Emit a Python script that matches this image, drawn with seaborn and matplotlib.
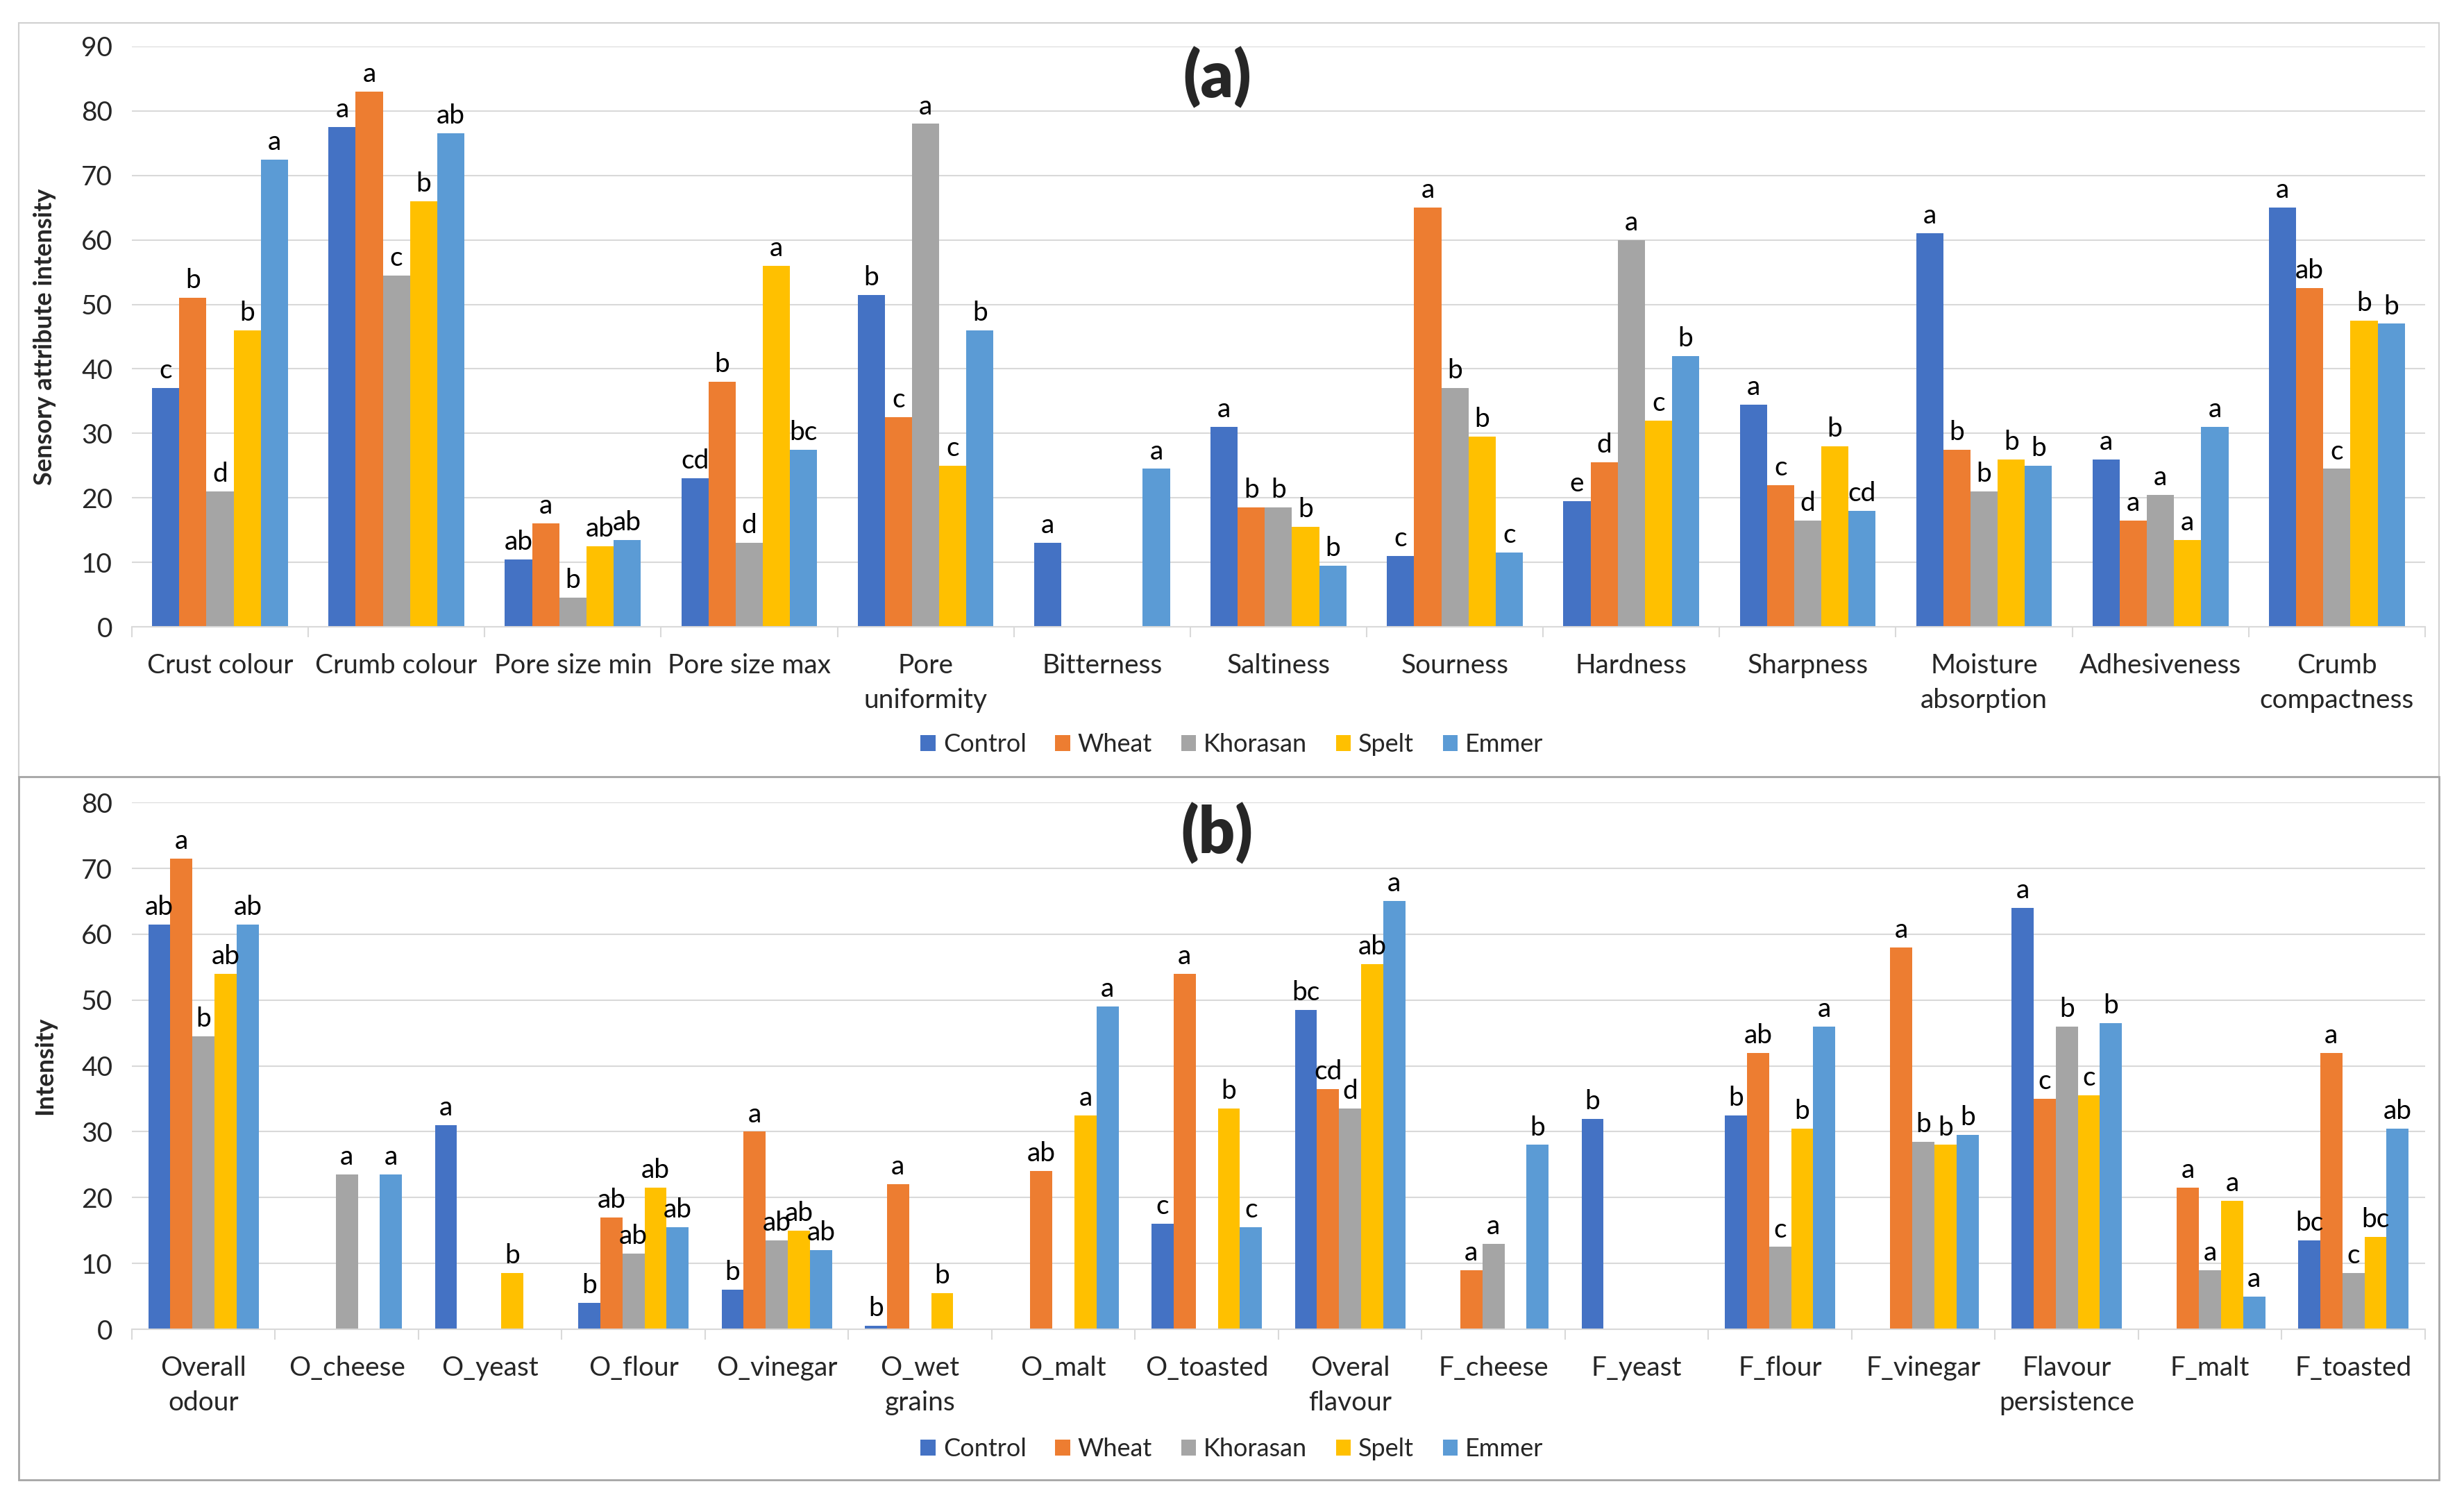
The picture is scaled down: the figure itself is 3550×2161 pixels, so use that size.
import matplotlib
matplotlib.use('Agg')
import matplotlib.pyplot as plt
from matplotlib.patches import Rectangle
import numpy as np
import pandas as pd
import seaborn as sns

breads = ['Control', 'Wheat', 'Khorasan', 'Spelt', 'Emmer']
colours = ['#4472C4', '#ED7D31', '#A5A5A5', '#FFC000', '#5B9BD5']

# (a) appearance / texture / taste
attr_a = ['Crust colour', 'Crumb colour', 'Pore size min', 'Pore size max', 'Pore\nuniformity',
          'Bitterness', 'Saltiness', 'Sourness', 'Hardness', 'Sharpness', 'Moisture\nabsorption',
          'Adhesiveness', 'Crumb\ncompactness']
control_a = [37, 77.5, 10.5, 23, 51.5, 13, 31, 11, 19.5, 34.5, 61, 26, 65]
wheat_a = [51, 83, 16, 38, 32.5, 0, 18.5, 65, 25.5, 22, 27.5, 16.5, 52.5]
khorasan_a = [21, 54.5, 4.5, 13, 78, 0, 18.5, 37, 60, 16.5, 21, 20.5, 24.5]
spelt_a = [46, 66, 12.5, 56, 25, 0, 15.5, 29.5, 32, 28, 26, 13.5, 47.5]
emmer_a = [72.5, 76.5, 13.5, 27.5, 46, 24.5, 9.5, 11.5, 42, 18, 25, 31, 47]
control_a_lbl = ['c', 'a', 'ab', 'cd', 'b', 'a', 'a', 'c', 'e', 'a', 'a', 'a', 'a']
wheat_a_lbl = ['b', 'a', 'a', 'b', 'c', '', 'b', 'a', 'd', 'c', 'b', 'a', 'ab']
khorasan_a_lbl = ['d', 'c', 'b', 'd', 'a', '', 'b', 'b', 'a', 'd', 'b', 'a', 'c']
spelt_a_lbl = ['b', 'b', 'ab', 'a', 'c', '', 'b', 'b', 'c', 'b', 'b', 'a', 'b']
emmer_a_lbl = ['a', 'ab', 'ab', 'bc', 'b', 'a', 'b', 'c', 'b', 'cd', 'b', 'a', 'b']

# (b) odour / flavour
attr_b = ['Overall\nodour', 'O_cheese', 'O_yeast', 'O_flour', 'O_vinegar', 'O_wet\ngrains',
          'O_malt', 'O_toasted', 'Overal\nflavour', 'F_cheese', 'F_yeast', 'F_flour',
          'F_vinegar', 'Flavour\npersistence', 'F_malt', 'F_toasted']
control_b = [61.5, 0, 31, 4, 6, 0.5, 0, 16, 48.5, 0, 32, 32.5, 0, 64, 0, 13.5]
wheat_b = [71.5, 0, 0, 17, 30, 22, 24, 54, 36.5, 9, 0, 42, 58, 35, 21.5, 42]
khorasan_b = [44.5, 23.5, 0, 11.5, 13.5, 0, 0, 0, 33.5, 13, 0, 12.5, 28.5, 46, 9, 8.5]
spelt_b = [54, 0, 8.5, 21.5, 15, 5.5, 32.5, 33.5, 55.5, 0, 0, 30.5, 28, 35.5, 19.5, 14]
emmer_b = [61.5, 23.5, 0, 15.5, 12, 0, 49, 15.5, 65, 28, 0, 46, 29.5, 46.5, 5, 30.5]
control_b_lbl = ['ab', '', 'a', 'b', 'b', 'b', '', 'c', 'bc', '', 'b', 'b', '', 'a', '', 'bc']
wheat_b_lbl = ['a', '', '', 'ab', 'a', 'a', 'ab', 'a', 'cd', 'a', '', 'ab', 'a', 'c', 'a', 'a']
khorasan_b_lbl = ['b', 'a', '', 'ab', 'ab', '', '', '', 'd', 'a', '', 'c', 'b', 'b', 'a', 'c']
spelt_b_lbl = ['ab', '', 'b', 'ab', 'ab', 'b', 'a', 'b', 'ab', '', '', 'b', 'b', 'c', 'a', 'bc']
emmer_b_lbl = ['ab', 'a', '', 'ab', 'ab', '', 'a', 'c', 'a', 'b', '', 'a', 'b', 'b', 'a', 'ab']

sns.set_theme(style='white')
plt.rcParams['font.family'] = ['Lato', 'DejaVu Sans']

FS = 28
GRID = '#D9D9D9'
TXT = '#262626'


def draw_panel(ax, attrs, series, labels, ymax, ylabel):
    rows = []
    for b, vals in zip(breads, series):
        for a, v in zip(attrs, vals):
            rows.append({'attribute': a, 'bread': b, 'value': v})
    df = pd.DataFrame(rows)
    sns.barplot(data=df, x='attribute', y='value', hue='bread', order=attrs, hue_order=breads,
                palette=dict(zip(breads, colours)), width=0.77, saturation=1, linewidth=0,
                errorbar=None, legend=True, ax=ax)
    for cont, lbl in zip(ax.containers, labels):
        ax.bar_label(cont, labels=lbl, padding=5, fontsize=FS, color='black')
    n = len(attrs)
    ax.set_xlim(-0.5, n - 0.5)
    ax.set_ylim(0, ymax)
    ax.set_yticks(np.arange(0, ymax + 1, 10))
    ax.set_xticks(np.arange(-0.5, n, 1), minor=True)
    ax.tick_params(axis='x', which='major', length=0, pad=27, labelsize=FS, labelcolor=TXT)
    ax.tick_params(axis='x', which='minor', length=11, width=1.5, color=GRID, bottom=True)
    ax.tick_params(axis='y', length=0, pad=20, labelsize=FS, labelcolor=TXT)
    for lab in ax.get_xticklabels():
        lab.set_linespacing(1.5)
    ax.yaxis.grid(True, color=GRID, linewidth=1.5)
    ax.set_axisbelow(True)
    for s in ['left', 'right', 'top']:
        ax.spines[s].set_visible(False)
    ax.spines['bottom'].set_color(GRID)
    ax.spines['bottom'].set_linewidth(1.5)
    ax.set_xlabel('')
    ax.set_ylabel(ylabel, fontsize=26, fontweight='bold', color=TXT)
    ax.yaxis.set_label_coords(-0.033, 0.5)
    handles, names = ax.get_legend_handles_labels()
    ax.get_legend().remove()
    return handles, names


fig = plt.figure(figsize=(35.5, 21.61), dpi=100)
ax_a = fig.add_axes([0.0535, 0.5821, 0.9307, 0.3869])
ax_b = fig.add_axes([0.0535, 0.1138, 0.9307, 0.3512])

h, l = draw_panel(ax_a, attr_a, [control_a, wheat_a, khorasan_a, spelt_a, emmer_a],
                  [control_a_lbl, wheat_a_lbl, khorasan_a_lbl, spelt_a_lbl, emmer_a_lbl],
                  90, 'Sensory attribute intensity')
draw_panel(ax_b, attr_b, [control_b, wheat_b, khorasan_b, spelt_b, emmer_b],
           [control_b_lbl, wheat_b_lbl, khorasan_b_lbl, spelt_b_lbl, emmer_b_lbl],
           80, 'Intensity')

for y in [0.5035, 0.0338]:
    fig.legend(h, l, loc='center', bbox_to_anchor=(0.5, y), ncol=5, frameon=False,
               fontsize=26, handlelength=0.6, handleheight=0.6, handletextpad=0.3,
               columnspacing=1.15, labelcolor=TXT)

fig.text(0.494, 1 - 112 / 2161, '(a)', ha='center', va='center', fontsize=66, fontweight='heavy')
fig.text(0.494, 1 - 1201 / 2161, '(b)', ha='center', va='center', fontsize=66, fontweight='heavy')

# panel frames
W, H = 3550, 2161
fig.patches.append(Rectangle((27 / W, 1 - 1119 / H), (3514 - 27) / W, (1119 - 33) / H,
                             transform=fig.transFigure, fill=False, edgecolor='#D0D0D0', lw=1.5))
fig.patches.append(Rectangle((27 / W, 1 - 2132 / H), (3514 - 27) / W, (2132 - 1119) / H,
                             transform=fig.transFigure, fill=False, edgecolor='#A6A6A6', lw=2))

fig.savefig('out.png', dpi=100)
